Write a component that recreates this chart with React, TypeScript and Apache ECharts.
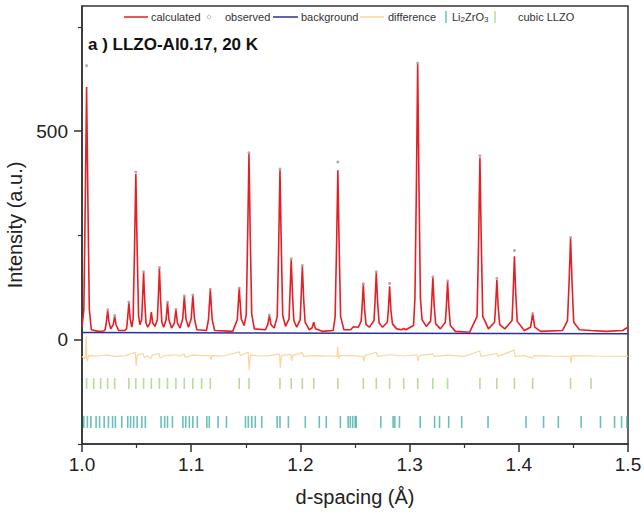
import React, { useEffect, useRef } from 'react';
import * as echarts from 'echarts';

// d-spacing (Å) vs intensity, calculated profile
const calculated: [number, number][] = [
  [1.0000, 30], [1.0017, 73], [1.0030, 333], [1.0042, 606], [1.0054, 333], [1.0067, 73], [1.0085, 24],
  [1.0150, 20], [1.0200, 21],
  [1.0212, 24], [1.0224, 44], [1.0235, 70], [1.0246, 44], [1.0263, 26],
  [1.0286, 36], [1.0299, 56], [1.0312, 36], [1.0335, 22], [1.0390, 22],
  [1.0408, 26], [1.0418, 52], [1.0429, 89], [1.0440, 52], [1.0456, 30],
  [1.0468, 50], [1.0481, 218], [1.0493, 397], [1.0505, 218], [1.0518, 58], [1.0530, 36],
  [1.0546, 48], [1.0553, 90], [1.0564, 161], [1.0575, 90], [1.0586, 40], [1.0602, 30],
  [1.0622, 40], [1.0635, 66], [1.0648, 40], [1.0668, 32],
  [1.0690, 48], [1.0698, 95], [1.0709, 171], [1.0720, 95], [1.0731, 42], [1.0748, 30],
  [1.0770, 48], [1.0783, 89], [1.0796, 48], [1.0820, 28],
  [1.0846, 40], [1.0860, 72], [1.0874, 40], [1.0898, 28],
  [1.0922, 50], [1.0937, 104], [1.0952, 50], [1.0975, 30],
  [1.1000, 50], [1.1015, 106], [1.1030, 50], [1.1052, 24], [1.1140, 22],
  [1.1158, 48], [1.1175, 120], [1.1192, 48], [1.1215, 22], [1.1380, 20],
  [1.1422, 48], [1.1440, 123], [1.1458, 50], [1.1485, 34],
  [1.1504, 60], [1.1517, 245], [1.1529, 446], [1.1541, 245], [1.1554, 62], [1.1578, 26], [1.1680, 24],
  [1.1701, 36], [1.1716, 58], [1.1731, 36], [1.1760, 28],
  [1.1788, 56], [1.1801, 224], [1.1813, 407], [1.1825, 224], [1.1838, 58], [1.1864, 32],
  [1.1896, 50], [1.1904, 106], [1.1916, 192], [1.1928, 106], [1.1940, 46], [1.1966, 30],
  [1.1998, 48], [1.2006, 97], [1.2018, 176], [1.2030, 97], [1.2043, 42], [1.2080, 24],
  [1.2106, 28], [1.2122, 42], [1.2138, 26], [1.2200, 20], [1.2300, 22],
  [1.2318, 54], [1.2331, 223], [1.2343, 406], [1.2355, 223], [1.2368, 56], [1.2398, 24],
  [1.2460, 24], [1.2485, 31], [1.2530, 30],
  [1.2556, 44], [1.2564, 73], [1.2576, 132], [1.2588, 73], [1.2601, 36], [1.2632, 30],
  [1.2674, 46], [1.2683, 89], [1.2695, 161], [1.2707, 89], [1.2721, 40], [1.2752, 30],
  [1.2796, 42], [1.2805, 70], [1.2817, 128], [1.2829, 70], [1.2843, 38], [1.2882, 26],
  [1.2930, 24], [1.2946, 27], [1.2965, 24],
  [1.3036, 34], [1.3049, 100], [1.3062, 364], [1.3074, 661], [1.3086, 364], [1.3099, 100], [1.3114, 48], [1.3152, 32],
  [1.3192, 44], [1.3201, 82], [1.3213, 149], [1.3225, 82], [1.3239, 38], [1.3282, 26],
  [1.3327, 42], [1.3336, 76], [1.3348, 139], [1.3360, 76], [1.3373, 34], [1.3420, 20], [1.3550, 18],
  [1.3618, 56], [1.3632, 240], [1.3644, 437], [1.3656, 240], [1.3670, 56], [1.3722, 26],
  [1.3778, 42], [1.3787, 79], [1.3799, 143], [1.3811, 79], [1.3825, 36], [1.3872, 26],
  [1.3938, 46], [1.3948, 110], [1.3960, 200], [1.3972, 110], [1.3986, 44], [1.4050, 22],
  [1.4108, 30], [1.4127, 62], [1.4146, 30], [1.4200, 20], [1.4400, 22],
  [1.4446, 46], [1.4460, 134], [1.4474, 243], [1.4488, 134], [1.4503, 42], [1.4555, 24],
  [1.4661, 22], [1.4800, 20], [1.4950, 22], [1.5000, 30],
];

const observed: [number, number][] = [
  [1.0042, 657], [1.0235, 72], [1.0299, 58], [1.0429, 90], [1.0493, 402], [1.0564, 163],
  [1.0709, 173], [1.0783, 90], [1.0860, 73], [1.0937, 105], [1.1015, 107], [1.1175, 121],
  [1.1440, 124], [1.1529, 448], [1.1716, 59], [1.1813, 409], [1.1916, 194], [1.2018, 178],
  [1.2343, 426], [1.2576, 134], [1.2695, 163], [1.2817, 135], [1.3074, 663], [1.3213, 151],
  [1.3348, 141], [1.3644, 441], [1.3799, 147], [1.3960, 214], [1.4127, 63], [1.4474, 245],
];

const background: [number, number][] = [[1.0, 17], [1.25, 15.5], [1.5, 14]];

const difference: [number, number][] = [
  [1.0000, -40], [1.0030, -46], [1.0038, 8], [1.0046, -52], [1.0060, -38], [1.0150, -39],
  [1.0235, -37], [1.0299, -40], [1.0400, -38], [1.0488, -30], [1.0496, -63], [1.0506, -37],
  [1.0560, -33], [1.0570, -43], [1.0600, -38], [1.0632, -46], [1.0642, -37], [1.0705, -33],
  [1.0714, -44], [1.0760, -38], [1.0860, -36], [1.0900, -39], [1.0935, -34], [1.0944, -42],
  [1.1015, -37], [1.1100, -38], [1.1172, -38], [1.1180, -48], [1.1190, -38], [1.1300, -39],
  [1.1438, -29], [1.1450, -38], [1.1522, -30], [1.1531, -74], [1.1542, -37], [1.1620, -39],
  [1.1716, -38], [1.1808, -34], [1.1816, -68], [1.1826, -38], [1.1912, -35], [1.1920, -51],
  [1.1930, -38], [1.2018, -31], [1.2028, -40], [1.2122, -38], [1.2250, -39], [1.2336, -40],
  [1.2342, -17], [1.2349, -46], [1.2358, -38], [1.2480, -38], [1.2573, -40], [1.2580, -52],
  [1.2590, -38], [1.2695, -30], [1.2705, -40], [1.2817, -36], [1.2950, -39], [1.3068, -36],
  [1.3077, -51], [1.3088, -38], [1.3213, -34], [1.3222, -40], [1.3348, -37], [1.3500, -40],
  [1.3642, -27], [1.3652, -40], [1.3799, -33], [1.3808, -40], [1.3958, -25], [1.3967, -40],
  [1.4050, -38], [1.4127, -44], [1.4140, -38], [1.4300, -39], [1.4470, -40], [1.4477, -55],
  [1.4487, -38], [1.4700, -39], [1.5000, -40],
];

// reflection positions (d-spacing, Å)
const cubicLLZO: number[] = [
  1.0042, 1.0107, 1.0171, 1.0235, 1.0299, 1.0429, 1.0493, 1.0564, 1.0635, 1.0709, 1.0783,
  1.0860, 1.0937, 1.1015, 1.1095, 1.1175, 1.1440, 1.1529, 1.1813, 1.1916, 1.2018, 1.2122,
  1.2343, 1.2576, 1.2695, 1.2817, 1.2946, 1.3074, 1.3213, 1.3348, 1.3644, 1.3799, 1.3960,
  1.4127, 1.4474, 1.4661,
];

const li2ZrO3: number[] = [
  1.0016, 1.0049, 1.0081, 1.0129, 1.0161, 1.0203, 1.0242, 1.0280, 1.0306, 1.0364, 1.0419,
  1.0445, 1.0473, 1.0505, 1.0548, 1.0580, 1.0724, 1.0757, 1.0783, 1.0828, 1.0924, 1.0950,
  1.0983, 1.1015, 1.1056, 1.1143, 1.1166, 1.1246, 1.1323, 1.1497, 1.1523, 1.1555, 1.1587,
  1.1646, 1.1787, 1.1813, 1.1890, 1.2045, 1.2173, 1.2237, 1.2366, 1.2437, 1.2457, 1.2479,
  1.2502, 1.2511, 1.2736, 1.2849, 1.2865, 1.2907, 1.3097, 1.3229, 1.3274, 1.3358, 1.3477,
  1.3718, 1.4066, 1.4227, 1.4362, 1.4571, 1.4748, 1.4877, 1.4941, 1.4990,
];

const cubicRowLevel = -105;
const li2RowLevel = -197;
const yLabelValues = [0, 500];
const yMinorTickValues = [-250, 250, 750];

const FONT = '"Liberation Sans", Arial, Helvetica, sans-serif';
const C_CALC = '#e41f26';
const C_OBS = '#9a9a9a';
const C_BG = '#2e3192';
const C_DIFF = '#fbd69c';
const C_LI2 = '#45b0a6';
const C_CUBIC = '#a6d27e';

export default function App() {
  const ref = useRef<HTMLDivElement>(null);
  useEffect(() => {
    if (!ref.current) return;
    const chart = echarts.init(ref.current, undefined, { renderer: 'svg' });
    const LY = 17;
    const legendText = (x: number, text: string) => ({
      type: 'text', x, y: LY,
      style: { text, fontSize: 11, fontFamily: FONT, fill: '#333', verticalAlign: 'middle', align: 'left' },
    });
    const option: any = {
      animation: false,
      backgroundColor: '#ffffff',
      grid: {
        left: 82, right: 16, top: 6, bottom: 78,
        show: true, borderColor: '#333', borderWidth: 1.5, backgroundColor: 'transparent',
        outerBoundsMode: 'none',
      },
      xAxis: {
        type: 'value', min: 1.0, max: 1.5, interval: 0.1,
        name: 'd-spacing (Å)', nameLocation: 'middle', nameGap: 43,
        nameTextStyle: { fontSize: 20, color: '#222', fontFamily: FONT },
        axisLine: { onZero: false, lineStyle: { color: '#333', width: 1.5 } },
        axisTick: { inside: false, length: 8, lineStyle: { color: '#333', width: 1.5 } },
        minorTick: { show: true, splitNumber: 2, length: 4, lineStyle: { color: '#333', width: 1.2 } },
        axisLabel: {
          fontSize: 19, color: '#222', fontFamily: FONT, margin: 11,
          showMinLabel: true, showMaxLabel: true,
          formatter: (v: number) => v.toFixed(1),
        },
        splitLine: { show: false },
        minorSplitLine: { show: false },
      },
      yAxis: [
        {
          type: 'value', min: -250, max: 800, interval: 250, position: 'left',
          name: 'Intensity (a.u.)', nameLocation: 'middle', nameGap: 54,
          nameTextStyle: { fontSize: 20, color: '#222', fontFamily: FONT },
          axisLine: { show: true, onZero: false, lineStyle: { color: '#333', width: 1.5 } },
          axisTick: { show: true, inside: false, length: 8, customValues: yLabelValues, lineStyle: { color: '#333', width: 1.5 } },
          axisLabel: { fontSize: 19, color: '#222', fontFamily: FONT, margin: 14, customValues: yLabelValues },
          splitLine: { show: false },
        },
        {
          type: 'value', min: -250, max: 800, interval: 250, position: 'left', offset: 0,
          axisLine: { show: false },
          axisTick: { show: true, inside: false, length: 4, customValues: yMinorTickValues, lineStyle: { color: '#333', width: 1.2 } },
          axisLabel: { show: false },
          splitLine: { show: false },
        },
      ],
      series: [
        {
          name: 'difference', type: 'line', data: difference, showSymbol: false, symbol: 'none',
          lineStyle: { color: C_DIFF, width: 1.2 }, z: 2,
        },
        {
          name: 'cubic LLZO', type: 'scatter', data: cubicLLZO.map((d) => [d, cubicRowLevel]),
          symbol: 'rect', symbolSize: [1.6, 11], itemStyle: { color: C_CUBIC }, z: 3,
        },
        {
          name: 'Li2ZrO3', type: 'scatter', data: li2ZrO3.map((d) => [d, li2RowLevel]),
          symbol: 'rect', symbolSize: [1.6, 12], itemStyle: { color: C_LI2 }, z: 3,
        },
        {
          name: 'background', type: 'line', data: background, showSymbol: false, symbol: 'none',
          lineStyle: { color: C_BG, width: 1.5 }, z: 4,
        },
        {
          name: 'calculated', type: 'line', data: calculated, showSymbol: false, symbol: 'none',
          lineStyle: { color: C_CALC, width: 1.6 }, z: 5,
        },
        {
          name: 'observed', type: 'scatter', data: observed, symbol: 'circle', symbolSize: 3,
          itemStyle: { color: C_OBS }, z: 6,
        },
      ],
      graphic: [
        { type: 'line', shape: { x1: 124, y1: LY, x2: 148, y2: LY }, style: { stroke: C_CALC, lineWidth: 1.5 } },
        legendText(151, 'calculated'),
        { type: 'circle', shape: { cx: 209, cy: LY, r: 1.8 }, style: { fill: 'none', stroke: '#aaa', lineWidth: 0.8 } },
        legendText(225, 'observed'),
        { type: 'line', shape: { x1: 273, y1: LY, x2: 298, y2: LY }, style: { stroke: C_BG, lineWidth: 1.5 } },
        legendText(301, 'background'),
        { type: 'line', shape: { x1: 360, y1: LY, x2: 384, y2: LY }, style: { stroke: C_DIFF, lineWidth: 1.5 } },
        legendText(388, 'difference'),
        { type: 'line', shape: { x1: 446, y1: 11, x2: 446, y2: 23 }, style: { stroke: C_LI2, lineWidth: 1.2 } },
        {
          type: 'text', x: 452, y: LY,
          style: {
            text: '{n|Li}{s|2}{n|ZrO}{s|3}',
            verticalAlign: 'middle', align: 'left',
            rich: {
              n: { fontSize: 11, fontFamily: FONT, fill: '#333', lineHeight: 12, verticalAlign: 'top' },
              s: { fontSize: 8, fontFamily: FONT, fill: '#333', lineHeight: 8, verticalAlign: 'bottom', padding: [6, 0, 0, 0] },
            },
          },
        },
        { type: 'line', shape: { x1: 495, y1: 11, x2: 495, y2: 23 }, style: { stroke: C_CUBIC, lineWidth: 1.2 } },
        legendText(518, 'cubic LLZO'),
        {
          type: 'text', x: 88, y: 44,
          style: {
            text: 'a ) LLZO-Al0.17, 20 K', fontSize: 17, fontWeight: 'bold', fontFamily: FONT,
            fill: '#111', verticalAlign: 'middle', align: 'left',
          },
        },
      ],
    };
    chart.setOption(option);
    return () => chart.dispose();
  }, []);
  return (
    <div
      ref={ref}
      style={{ position: 'fixed', left: 0, top: 0, width: 644, height: 522, background: '#fff' }}
    />
  );
}
